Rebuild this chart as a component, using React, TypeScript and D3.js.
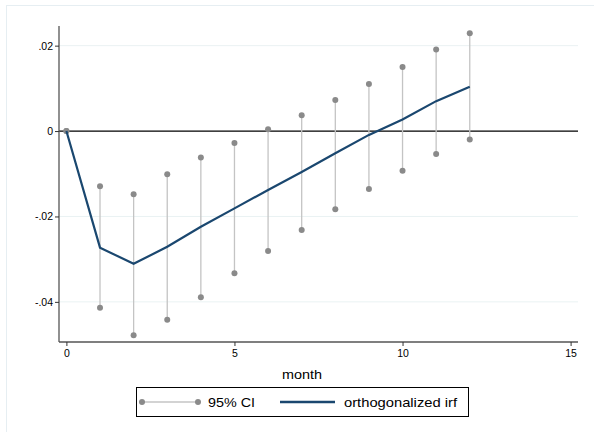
import React, { useEffect, useRef } from "react";
import * as d3 from "d3";

// impulse response (orthogonalized) and 95% CI by month
const steps = [0, 1, 2, 3, 4, 5, 6, 7, 8, 9, 10, 11, 12];
const irf = [0, -0.0273, -0.0311, -0.0271, -0.0224, -0.0181, -0.0138, -0.0096, -0.0052, -0.0009, 0.0027, 0.007, 0.0104];
const ciLower = [0, -0.0414, -0.0478, -0.0442, -0.0389, -0.0333, -0.0281, -0.0232, -0.0183, -0.0136, -0.0093, -0.0054, -0.002];
const ciUpper = [0, -0.0129, -0.0148, -0.0101, -0.0062, -0.0028, 0.0004, 0.0037, 0.0073, 0.011, 0.015, 0.0191, 0.0229];
const xTicks = [0, 5, 10, 15];
const yTicks = [0.02, 0, -0.02, -0.04];
const yTickLabels = [".02", "0", "-.02", "-.04"];

const App = () => {
  const ref = useRef<SVGSVGElement | null>(null);

  useEffect(() => {
    const width = 594;
    const height = 432;
    const left = 59;
    const right = 578;
    const top = 26;
    const bottom = 342;
    const font = "'Liberation Sans', Arial, sans-serif";
    const navy = "#1a476f";
    const gray = "#8a8a8a";

    const svg = d3.select(ref.current);
    svg.selectAll("*").remove();

    const x = d3.scaleLinear().domain([-0.22, 15.22]).range([left, right]);
    const y = d3.scaleLinear().domain([-0.0494, 0.0246]).range([bottom, top]);

    svg.append("rect").attr("width", width).attr("height", height).attr("fill", "#fff");
    svg
      .append("rect")
      .attr("x", 6.5)
      .attr("y", 5.5)
      .attr("width", 620)
      .attr("height", 460)
      .attr("fill", "none")
      .attr("stroke", "#e6eef2");

    // gridlines
    svg
      .append("g")
      .selectAll("line")
      .data(yTicks.filter((d) => d !== 0))
      .join("line")
      .attr("x1", left)
      .attr("x2", right)
      .attr("y1", (d) => y(d))
      .attr("y2", (d) => y(d))
      .attr("stroke", "#eaf2f3")
      .attr("stroke-width", 1);

    // zero line
    svg
      .append("line")
      .attr("x1", left)
      .attr("x2", right)
      .attr("y1", y(0))
      .attr("y2", y(0))
      .attr("stroke", "#000")
      .attr("stroke-width", 1.2);

    // CI spikes
    const ci = svg.append("g");
    ci.selectAll("line")
      .data(steps)
      .join("line")
      .attr("x1", (d) => x(d))
      .attr("x2", (d) => x(d))
      .attr("y1", (d, i) => y(ciLower[i]))
      .attr("y2", (d, i) => y(ciUpper[i]))
      .attr("stroke", "#c4c4c4")
      .attr("stroke-width", 1.3);
    ci.selectAll("circle.lo")
      .data(steps)
      .join("circle")
      .attr("class", "lo")
      .attr("cx", (d) => x(d))
      .attr("cy", (d, i) => y(ciLower[i]))
      .attr("r", 3)
      .attr("fill", gray);
    ci.selectAll("circle.hi")
      .data(steps)
      .join("circle")
      .attr("class", "hi")
      .attr("cx", (d) => x(d))
      .attr("cy", (d, i) => y(ciUpper[i]))
      .attr("r", 3)
      .attr("fill", gray);

    // irf line
    const line = d3
      .line<number>()
      .x((d) => x(d))
      .y((d, i) => y(irf[i]));
    svg
      .append("path")
      .datum(steps)
      .attr("d", line)
      .attr("fill", "none")
      .attr("stroke", navy)
      .attr("stroke-width", 2.2);

    // axes
    const yAxis = svg
      .append("g")
      .attr("transform", `translate(${left},0)`)
      .call(
        d3
          .axisLeft(y)
          .tickValues(yTicks)
          .tickSize(4)
          .tickPadding(2)
          .tickFormat((d, i) => yTickLabels[i])
      );
    yAxis.select(".domain").attr("d", `M0,${top}V${bottom}`).attr("stroke", "#555").attr("stroke-width", 1.3);
    yAxis.selectAll(".tick line").attr("stroke", "#333");
    yAxis.selectAll("text").attr("font-family", font).attr("font-size", 10.5).attr("fill", "#000");

    const xAxis = svg
      .append("g")
      .attr("transform", `translate(0,${bottom})`)
      .call(d3.axisBottom(x).tickValues(xTicks).tickSize(4).tickPadding(4).tickFormat(d3.format("d")));
    xAxis.select(".domain").attr("d", `M${left},0H${right}`).attr("stroke", "#555").attr("stroke-width", 1.3);
    xAxis.selectAll(".tick line").attr("stroke", "#333");
    xAxis.selectAll("text").attr("font-family", font).attr("font-size", 10.5).attr("fill", "#000");

    svg
      .append("text")
      .attr("x", 282)
      .attr("y", 379)
      .attr("font-family", font)
      .attr("font-size", 13)
      .attr("textLength", 40)
      .attr("lengthAdjust", "spacingAndGlyphs")
      .text("month");

    // legend
    const lg = svg.append("g");
    lg.append("rect")
      .attr("x", 136.5)
      .attr("y", 387.5)
      .attr("width", 332)
      .attr("height", 29)
      .attr("fill", "#fff")
      .attr("stroke", "#000");
    lg.append("line").attr("x1", 142).attr("x2", 198).attr("y1", 402).attr("y2", 402).attr("stroke", "#c4c4c4").attr("stroke-width", 1.3);
    lg.append("circle").attr("cx", 142).attr("cy", 402).attr("r", 3).attr("fill", gray);
    lg.append("circle").attr("cx", 198).attr("cy", 402).attr("r", 3).attr("fill", gray);
    lg.append("text")
      .attr("x", 208)
      .attr("y", 406.5)
      .attr("font-family", font)
      .attr("font-size", 13)
      .attr("textLength", 47)
      .attr("lengthAdjust", "spacingAndGlyphs")
      .text("95% CI");
    lg.append("line").attr("x1", 280).attr("x2", 335).attr("y1", 402).attr("y2", 402).attr("stroke", navy).attr("stroke-width", 2.5);
    lg.append("text")
      .attr("x", 344)
      .attr("y", 406.5)
      .attr("font-family", font)
      .attr("font-size", 13)
      .attr("textLength", 113)
      .attr("lengthAdjust", "spacingAndGlyphs")
      .text("orthogonalized irf");
  }, []);

  return (
    <svg
      ref={ref}
      width={594}
      height={432}
      style={{ position: "absolute", left: 0, top: 0, display: "block" }}
    />
  );
};

export default App;
